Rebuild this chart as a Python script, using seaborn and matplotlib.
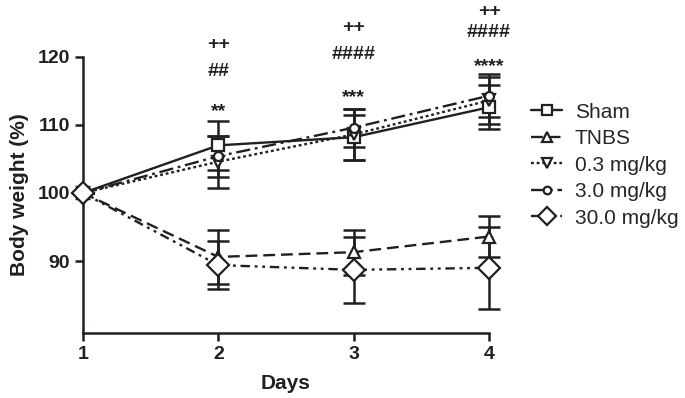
import numpy as np
import pandas as pd
import matplotlib
matplotlib.use("Agg")
import matplotlib.pyplot as plt
import seaborn as sns

sns.set_theme(style="ticks")
plt.rcParams['font.family'] = ['Liberation Sans', 'DejaVu Sans']

days = [1, 2, 3, 4]
groups = ["Sham", "TNBS", "0.3 mg/kg", "3.0 mg/kg", "30.0 mg/kg"]
sham = [100, 107.0, 108.2, 112.6]
sham_err = [0, 3.6, 3.3, 3.2]
tnbs = [100, 90.6, 91.3, 93.6]
tnbs_err = [0, 4.0, 3.3, 3.0]
dose_03 = [100, 104.6, 108.6, 113.6]
dose_03_err = [0, 3.8, 3.8, 3.5]
dose_3 = [100, 105.4, 109.6, 114.3]
dose_3_err = [0, 3.0, 2.8, 3.2]
dose_30 = [100, 89.4, 88.7, 89.0]
dose_30_err = [0, 3.5, 4.9, 6.0]

# significance marks above each day
sig_day = [2, 2, 2, 3, 3, 3, 4, 4, 4]
sig_text = ["**", "##", "++", "***", "####", "++", "****", "####", "++"]
sig_y = [112.0, 117.8, 121.8, 114.0, 120.3, 124.3, 118.6, 123.6, 126.7]

means = [sham, tnbs, dose_03, dose_3, dose_30]
errs = [sham_err, tnbs_err, dose_03_err, dose_3_err, dose_30_err]
markers = ["s", "^", "v", "o", "D"]
msizes = [9, 9, 9, 6.5, 11]
styles = ["-", (0, (5, 2.5)), (0, (1.2, 1.2)), (0, (6, 2, 1.2, 2)), (0, (4, 2, 1.2, 2, 1.2, 2))]
ink = "#231f20"

df = pd.DataFrame({
    "day": np.tile(days, len(groups)),
    "group": np.repeat(groups, len(days)),
    "weight": np.concatenate(means),
    "err": np.concatenate(errs),
})

fig = plt.figure(figsize=(6.85, 3.98), dpi=100)
ax = fig.add_axes([0.121, 0.163, 0.593, 0.694])

for g, m, ms, ls in zip(groups, markers, msizes, styles):
    sub = df[df["group"] == g]
    ax.errorbar(sub["day"], sub["weight"], yerr=sub["err"], fmt="none", ecolor=ink,
                elinewidth=1.8, capsize=8, capthick=1.8, clip_on=False, zorder=2)
    sns.lineplot(data=sub, x="day", y="weight", ax=ax, color=ink,
                 linestyle=ls, linewidth=1.7, marker=m, markersize=ms,
                 markerfacecolor="white", markeredgecolor=ink,
                 markeredgewidth=1.6, label=g, clip_on=False, zorder=3)

for d, t, y in zip(sig_day, sig_text, sig_y):
    ax.text(d, y, t, ha="center", va="center", fontsize=14, fontweight="bold",
            color=ink, clip_on=False)

ax.set_xlim(1, 4)
ax.set_ylim(79.4, 120)
ax.set_xticks(days)
ax.set_yticks([90, 100, 110, 120])
ax.set_xlabel("Days", fontsize=15, fontweight="bold", color=ink, labelpad=8)
ax.set_ylabel("Body weight (%)", fontsize=15, fontweight="bold", color=ink, labelpad=6)
ax.tick_params(axis="both", labelsize=14, width=1.8, length=6, colors=ink)
for lab in ax.get_xticklabels() + ax.get_yticklabels():
    lab.set_fontweight("bold")
for s in ["left", "bottom"]:
    ax.spines[s].set_linewidth(1.8)
    ax.spines[s].set_color(ink)
sns.despine(ax=ax)

ax.legend(loc="center left", bbox_to_anchor=(0.748, 0.585), bbox_transform=fig.transFigure,
          frameon=False, fontsize=15, handlelength=1.5, handletextpad=0.6,
          labelspacing=0.36, markerscale=0.85)

fig.savefig("out.png", dpi=100)
